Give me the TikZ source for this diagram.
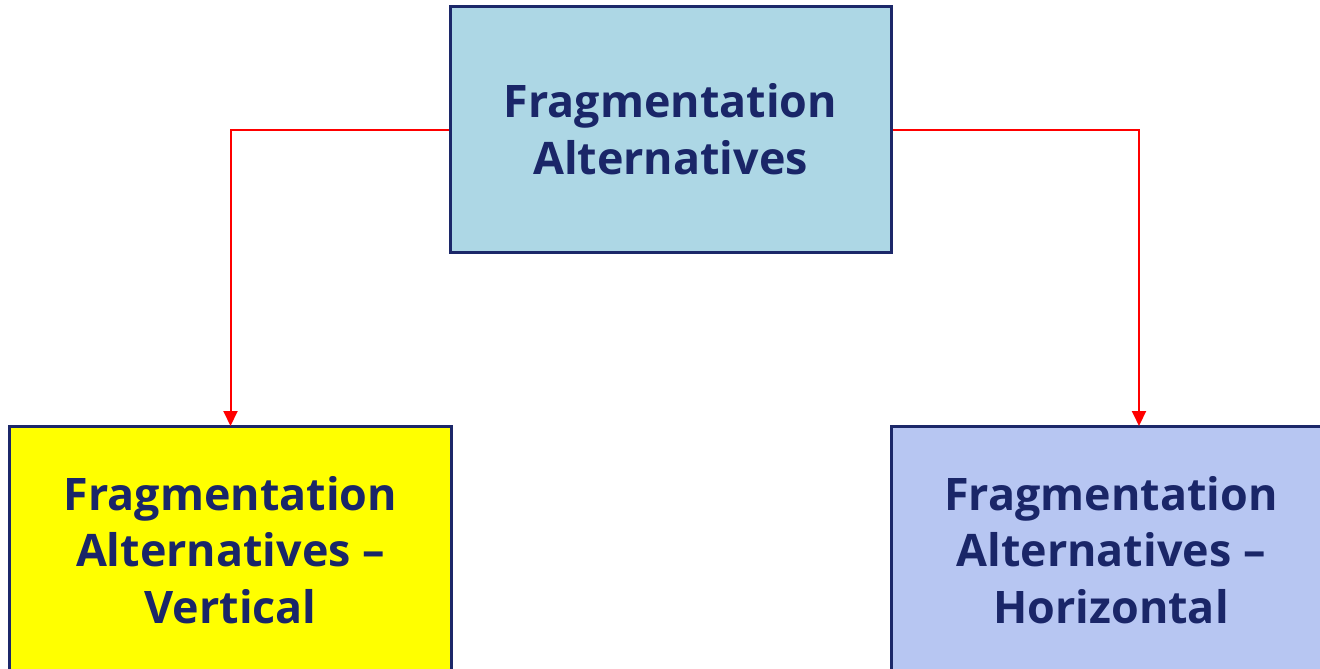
\documentclass[tikz,border=0pt]{standalone}
\usepackage{fontspec}
\setmainfont{Open Sans}
\usetikzlibrary{arrows.meta}
\definecolor{navy}{RGB}{28,40,105}
\definecolor{txt}{RGB}{26,38,104}
\definecolor{topblue}{RGB}{173,215,229}
\definecolor{lav}{RGB}{183,198,242}
\definecolor{boxyellow}{RGB}{255,255,0}
\definecolor{linered}{RGB}{255,0,0}
\tikzset{
  box/.style={draw=navy, line width=3bp, align=center, inner sep=0pt,
    font=\fontsize{45}{57}\selectfont\bfseries, text=txt},
  conn/.style={draw=linered, line width=2bp, -{Triangle[length=15bp,width=14bp]}}
}
\begin{document}
\begin{tikzpicture}[x=1bp,y=-1bp]
\useasboundingbox (0,0) rectangle (1320,668);
\clip (0,0) rectangle (1320,668);
\node[box, fill=topblue, minimum width=441bp, minimum height=245bp] (top) at (670.5,129.5) {Fragmentation\\Alternatives};
\node[box, fill=boxyellow, minimum width=441bp, minimum height=248bp] (left) at (230.5,550) {Fragmentation\\Alternatives –\\Vertical};
\node[box, fill=lav, minimum width=440bp, minimum height=248bp] (right) at (1111,550) {Fragmentation\\Alternatives –\\Horizontal};
\coordinate (rin) at ([xshift=28bp]right.north);
\draw[conn] (top.west) -| ([yshift=-1.5bp]left.north);
\draw[conn] (top.east) -| ([yshift=-1.5bp]rin);
\end{tikzpicture}
\end{document}
